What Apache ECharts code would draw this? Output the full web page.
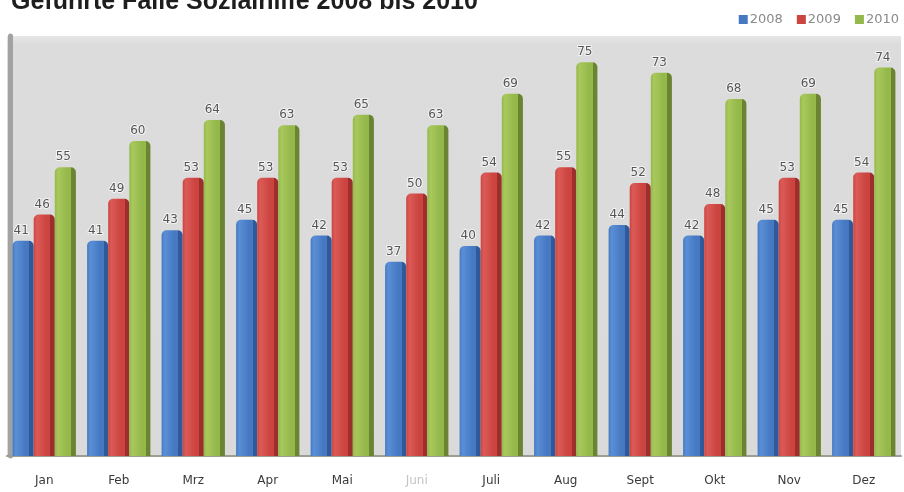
<!DOCTYPE html>
<html>
<head>
<meta charset="utf-8">
<script src="https://cdn.jsdelivr.net/npm/echarts@6/dist/echarts.min.js"></script>
<style>html,body{margin:0;padding:0;background:#fff}#c{width:904px;height:492px}</style>
</head>
<body>
<div id="c"></div>
<script>
var months = ['Jan','Feb','Mrz','Apr','Mai','Juni','Juli','Aug','Sept','Okt','Nov','Dez'];
var seriesNames = ['2008','2009','2010'];
var v2008 = [41,41,43,45,42,37,40,42,44,42,45,45];
var v2009 = [46,49,53,53,53,50,54,55,52,48,53,54];
var v2010 = [55,60,64,63,65,63,69,75,73,68,69,74];

var G = echarts.graphic.LinearGradient;
function shade(light, main, dark) {
  return new G(0,0,1,0,[
    {offset:0,color:main},{offset:0.15,color:light},{offset:0.6,color:main},
    {offset:0.78,color:main},{offset:0.79,color:dark},{offset:1,color:dark}
  ]);
}
var colors = [
  shade('#5a8fd6','#4679c2','#2f5a9a'),
  shade('#dc5b57','#cb4440','#9c2f2c'),
  shade('#a8c85c','#95b84b','#6a8432')
];
var legendColors = ['#4679c2','#cb4440','#95b84b'];
var data = [v2008, v2009, v2010];

var chart = echarts.init(document.getElementById('c'));
chart.setOption({
  animation:false,
  title:{text:'Geführte Fälle Sozialhilfe 2008 bis 2010', left:6, top:-15,
    textStyle:{fontFamily:'Liberation Sans', fontSize:25, fontWeight:'bold', color:'#1e1e1e'}},
  legend:{top:8, right:0, icon:'rect', itemWidth:9, itemHeight:9, itemGap:14,
    textStyle:{fontFamily:'DejaVu Sans', fontSize:13, color:'#8a8a8a', padding:[0,0,0,-3]},
    data: seriesNames.map(function(n,i){return {name:n, itemStyle:{color:legendColors[i]}};})},
  grid:{left:7, right:3, top:36, bottom:36, show:true, borderWidth:0,
    backgroundColor:new G(0,0,0,1,[{offset:0,color:'#e6e6e6'},{offset:0.02,color:'#dcdcdc'},{offset:1,color:'#dadada'}])},
  xAxis:{type:'category', data:months.map(function(m){return m==='Juni'?{value:m,textStyle:{color:'#c4c4c4'}}:m;}),
    axisLine:{show:true, lineStyle:{color:'#9aa08f', width:2}}, axisTick:{show:false},
    axisLabel:{margin:19, fontFamily:'DejaVu Sans', fontSize:12, color:'#3a3a3a'}},
  yAxis:{type:'value', min:0, max:80, interval:10, offset:-3,
    axisLine:{show:true, lineStyle:{color:'#a2a2a2', width:5}}, axisTick:{show:false},
    axisLabel:{show:false}, splitLine:{show:false}},
  series: data.map(function(d,i){
    return {name:seriesNames[i], type:'bar', data:d, barGap:'0%', barCategoryGap:'15%',
      itemStyle:{color:colors[i], borderRadius:[5,5,0,0]},
      label:{show:true, position:'top', distance:4, offset:[-2,0], fontFamily:'DejaVu Sans', fontSize:12,
        color:'#555', textBorderColor:'#f4f4f4', textBorderWidth:2}};
  })
});
</script>
</body>
</html>
